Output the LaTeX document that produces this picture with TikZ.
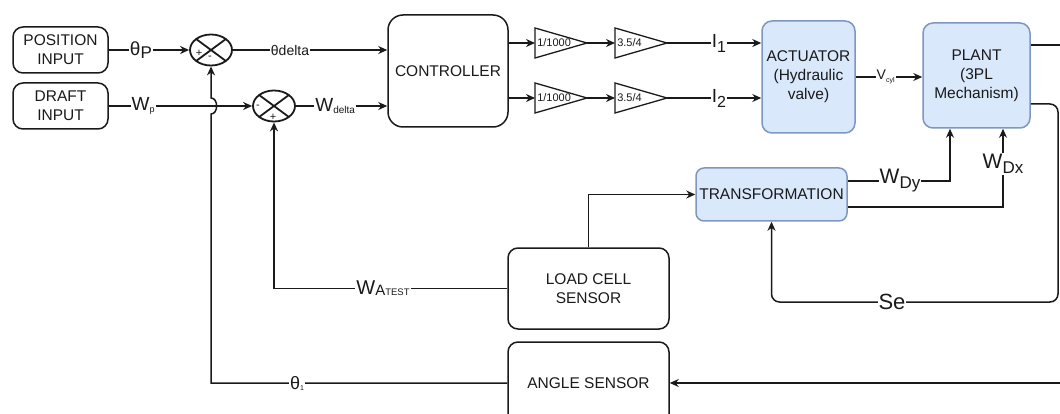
\documentclass[tikz,border=0pt]{standalone}
\usepackage{fontspec}
\setmainfont{Liberation Sans}
\usetikzlibrary{shapes.geometric,arrows.meta,calc}
\definecolor{bfill}{HTML}{DAE8FC}
\definecolor{bdraw}{HTML}{7E97C0}
\definecolor{ink}{HTML}{1A1A1A}
\newcommand{\fs}[1]{\fontsize{#1}{#1}\selectfont}
\begin{document}
\begin{tikzpicture}[x=1pt,y=-1pt, line width=1.5pt, color=ink,
  >={Stealth[length=9pt,width=8pt]},
  box/.style={draw=ink, rounded corners=10pt, align=center, font=\fontsize{15.5}{19}\selectfont, inner sep=0pt},
  bluebox/.style={box, fill=bfill, draw=bdraw},
  sumnode/.style={ellipse, draw=ink, minimum width=42pt, minimum height=31pt, inner sep=0pt, line width=1.8pt,
    path picture={\draw[line width=1.8pt] (path picture bounding box.north west) -- (path picture bounding box.south east)
      (path picture bounding box.north east) -- (path picture bounding box.south west);}},
  gain/.style={minimum width=52pt, minimum height=30pt, inner sep=0pt, outer sep=0pt},
  gtext/.style={anchor=west, inner sep=1.5pt, font=\fs{11}},
  lbl/.style={fill=white, inner sep=1pt},
  sgn/.style={font=\fs{11}, inner sep=0pt}
]
\useasboundingbox (0,0) rectangle (1060,414);
\clip (0,0) rectangle (1060,414);

% blocks
\node[box, minimum width=95pt, minimum height=46pt] (pos) at (60.5,50) {POSITION\\INPUT};
\node[box, minimum width=95pt, minimum height=46pt] (draft) at (60.5,106) {DRAFT\\INPUT};
\node[sumnode] (s1) at (211,50) {};
\node[sumnode] (s2) at (274,106) {};
\node[sgn] (s1p) at ($(s1)+(-12,3)$) {+};
\node[sgn] (s1m) at ($(s1)+(-1,8)$) {-};
\node[sgn] (s2m) at ($(s2)+(-16,1)$) {-};
\node[sgn] (s2p) at ($(s2)+(-1,11)$) {+};
\node[box, rounded corners=15pt, minimum width=120pt, minimum height=112pt] (ctrl) at (448,71) {CONTROLLER};
\node[gain, label={[gtext]west:1/1000}] (g1) at (561,43) {};
\node[gain, label={[gtext]west:3.5/4}] (g2) at (641,43) {};
\node[gain, label={[gtext]west:1/1000}] (g3) at (561,98) {};
\node[gain, label={[gtext]west:3.5/4}] (g4) at (641,98) {};
\foreach \g in {g1,g2,g3,g4}
  \draw[line width=1.3pt, line join=miter] (\g.north west) -- (\g.east) -- (\g.south west) -- cycle;
\node[bluebox, minimum width=93pt, minimum height=112pt] (act) at (808.5,77) {ACTUATOR\\(Hydraulic\\valve)};
\node[bluebox, minimum width=107pt, minimum height=105pt] (plant) at (976.5,75.5) {PLANT\\(3PL\\Mechanism)};
\node[bluebox, rounded corners=8pt, minimum width=151pt, minimum height=53pt] (trans) at (771.5,194.5) {TRANSFORMATION};
\node[box, minimum width=161pt, minimum height=81pt] (load) at (588.5,288.5) {LOAD CELL\\SENSOR};
\node[box, minimum width=161pt, minimum height=82pt] (angle) at (588.5,383) {ANGLE SENSOR};

\coordinate (rt1) at (1064,45);
\coordinate (rt2) at (1064,383);
\coordinate (rc) at (1058,302);
\coordinate (jb) at (211,114);
\coordinate (jt) at (211,98);

% connectors
\draw[->] (pos) -- (s1) node[lbl,pos=0.4] {\fs{19}θ\raisebox{-3pt}{\fs{17}P}};
\draw[->] (draft) -- (s2) node[lbl,pos=0.24] {\fs{19}W\raisebox{-2pt}{\fs{9}p}};
\draw[->] (s1) -- (ctrl.west |- s1) node[lbl,pos=0.37] {\fs{14}θdelta};
\draw[->] (s2) -- (ctrl.west |- s2) node[lbl,pos=0.43] {\fs{19}W\raisebox{-2pt}{\fs{10}delta}};
\draw[->] (ctrl.east |- g1.west) -- (g1.west);
\draw[->] (ctrl.east |- g3.west) -- (g3.west);
\draw[->] (g1.east) -- (g2.west);
\draw[->] (g3.east) -- (g4.west);
\draw[->] (g2.east) -- (act.west |- g2.east) node[lbl,pos=0.55] {\fs{19}I\raisebox{-5pt}{\fs{16}1}};
\draw[->] (g4.east) -- (act.west |- g4.east) node[lbl,pos=0.55] {\fs{19}I\raisebox{-5pt}{\fs{16}2}};
\draw[->] (act.east) -- (plant.west |- act.east) node[lbl,pos=0.45] {\fs{14}V\raisebox{-3pt}{\fs{7}cyl}};
\draw ([yshift=30.5pt]plant.east) -- (rt1);
\draw[->, rounded corners=8pt] ([yshift=-28.5pt]plant.east) -| (rc) -| (trans.south);
\node[lbl] (se) at (892,302) {\fs{22}Se};
\draw[->] ([yshift=13.5pt]trans.east) -| ([xshift=-26.5pt]plant.south);
\node[lbl] (wdy) at (900,181) {\fs{21}W\raisebox{-5pt}{\fs{17}Dy}};
\draw[->] ([yshift=-12.5pt]trans.east) -| ([xshift=26.5pt]plant.south);
\node[lbl] (wdx) at (1003,164) {\fs{21}W\raisebox{-5pt}{\fs{17}Dx}};
\draw[->] (load.north) |- (trans.west);
\draw[->] (load.west) -| (s2.south);
\node[lbl] (wa) at (383,288.5) {\fs{20}W\raisebox{-1pt}{\fs{15}A\fs{9.5}TEST}};
\draw[->] (rt2) -- (angle.east);
\draw[->] (angle.west) -| (jb) to[out=0,in=0,looseness=1.2] (jt) -- (s1.south);
\node[lbl] (th1) at (297,383) {\fs{18}θ\raisebox{-1pt}{\fs{7}1}};
\end{tikzpicture}
\end{document}
